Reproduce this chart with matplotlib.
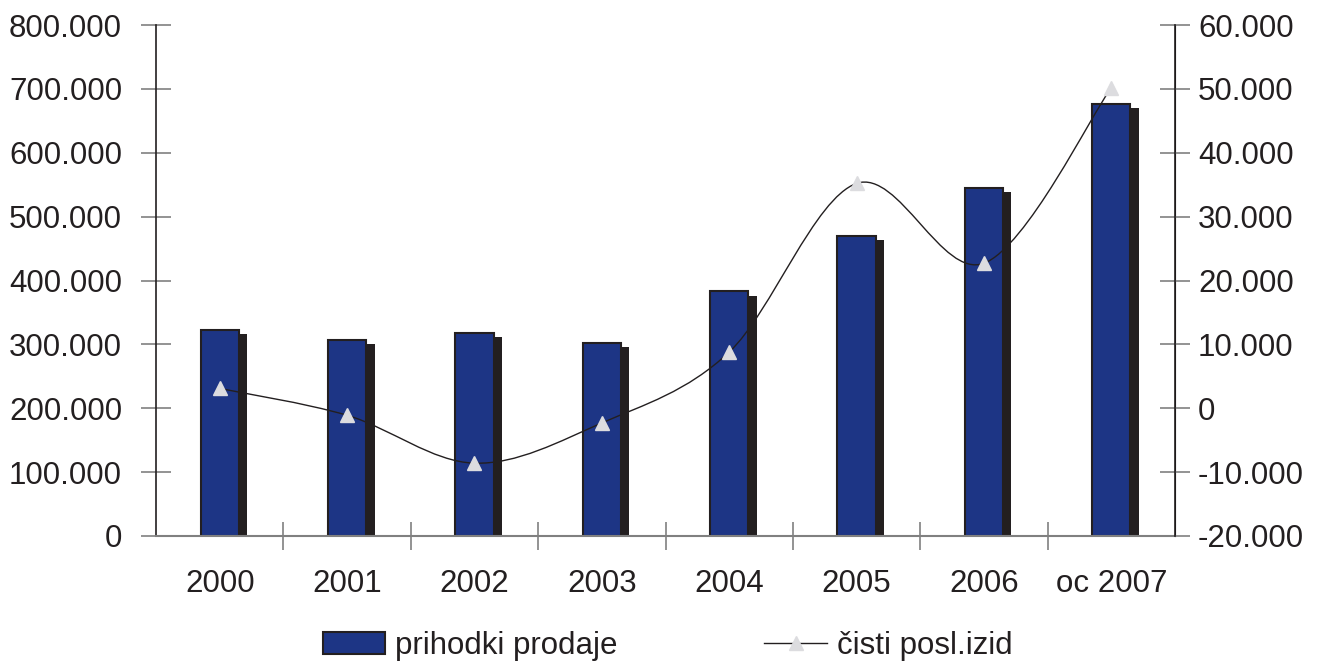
import numpy as np
import matplotlib.pyplot as plt
import matplotlib.patheffects as pe
from matplotlib.path import Path
from matplotlib.patches import PathPatch, Patch
from matplotlib.lines import Line2D
from matplotlib.ticker import FuncFormatter, MultipleLocator

plt.rcParams['font.family'] = ['Liberation Sans', 'DejaVu Sans']

# data
years = ['2000', '2001', '2002', '2003', '2004', '2005', '2006', 'oc 2007']
prihodki = [322000, 307000, 318000, 302000, 383000, 470000, 545000, 676000]
izid = [3100, -1100, -8600, -2300, 8800, 35200, 22700, 50200]

text_col = '#231f20'
bar_col = '#1d3585'
tri_col = '#dcdcdf'
tick_col = '#808080'
fs = 22.5


def thousands(v, pos):
    return f'{v:,.0f}'.replace(',', '.')


fig = plt.figure(figsize=(13.18, 6.64), dpi=100)
ax = fig.add_axes([0.1184, 0.1928, 0.7731, 0.7695])
ax2 = ax.twinx()

x = np.arange(len(years))

# bars with drop shadow
bars = ax.bar(x, prihodki, width=0.3, color=bar_col, edgecolor=text_col, linewidth=1.5, zorder=2)
for b in bars:
    b.set_path_effects([pe.SimplePatchShadow(offset=(6, -3), shadow_rgbFace=text_col, alpha=1.0),
                        pe.Normal()])

# smooth line (Catmull-Rom -> bezier) through the net result points
pts = np.column_stack([x, izid]).astype(float)
ext = np.vstack([pts[0], pts, pts[-1]])
verts = [tuple(pts[0])]
codes = [Path.MOVETO]
for i in range(len(pts) - 1):
    p0, p1, p2, p3 = ext[i], ext[i + 1], ext[i + 2], ext[i + 3]
    c1 = p1 + (p2 - p0) / 6.0
    c2 = p2 - (p3 - p1) / 6.0
    verts += [tuple(c1), tuple(c2), tuple(p2)]
    codes += [Path.CURVE4] * 3
ax2.add_patch(PathPatch(Path(verts, codes), facecolor='none', edgecolor=text_col, linewidth=1.0, zorder=3))
ax2.plot(x, izid, linestyle='none', marker='^', markersize=10, color=tri_col, zorder=4)

# axes setup
ax.set_xlim(-0.5, len(years) - 0.5)
ax.set_ylim(0, 800000)
ax2.set_ylim(-20000, 60000)

ax.yaxis.set_major_locator(MultipleLocator(100000))
ax2.yaxis.set_major_locator(MultipleLocator(10000))
ax.yaxis.set_major_formatter(FuncFormatter(thousands))
ax2.yaxis.set_major_formatter(FuncFormatter(thousands))

ax.set_xticks(x)
ax.set_xticklabels(years)
ax.set_xticks(np.arange(0.5, len(years) - 1, 1), minor=True)
ax.tick_params(axis='x', which='major', length=0, pad=24, labelsize=fs, labelcolor=text_col)
ax.tick_params(axis='x', which='minor', direction='inout', length=20, width=1.2, color=tick_col)
ax.tick_params(axis='y', direction='inout', length=21, width=1.2, color=tick_col,
               labelsize=fs, labelcolor=text_col, pad=14)
ax2.tick_params(axis='y', direction='inout', length=21, width=1.2, color=tick_col,
                labelsize=fs, labelcolor=text_col, pad=6)

for a in (ax, ax2):
    a.spines['top'].set_visible(False)
ax.spines['left'].set_color(text_col)
ax.spines['left'].set_linewidth(1.2)
ax.spines['bottom'].set_color(tick_col)
ax.spines['bottom'].set_linewidth(1.5)
ax2.spines['right'].set_color(text_col)
ax2.spines['right'].set_linewidth(1.2)
ax2.spines['left'].set_visible(False)
ax2.spines['bottom'].set_visible(False)

# legend
handles = [Patch(facecolor=bar_col, edgecolor=text_col, linewidth=1.5),
           Line2D([0], [0], color=text_col, linewidth=1.0, marker='^', markersize=10,
                  markerfacecolor=tri_col, markeredgecolor=tri_col)]
fig.legend(handles, ['prihodki prodaje', 'čisti posl.izid'], loc='center', bbox_to_anchor=(0.5065, 0.027),
           ncol=2, frameon=False, fontsize=fs, handlelength=2.0, handletextpad=0.32,
           columnspacing=4.7, labelcolor=text_col)

fig.savefig('out.png', dpi=100)
